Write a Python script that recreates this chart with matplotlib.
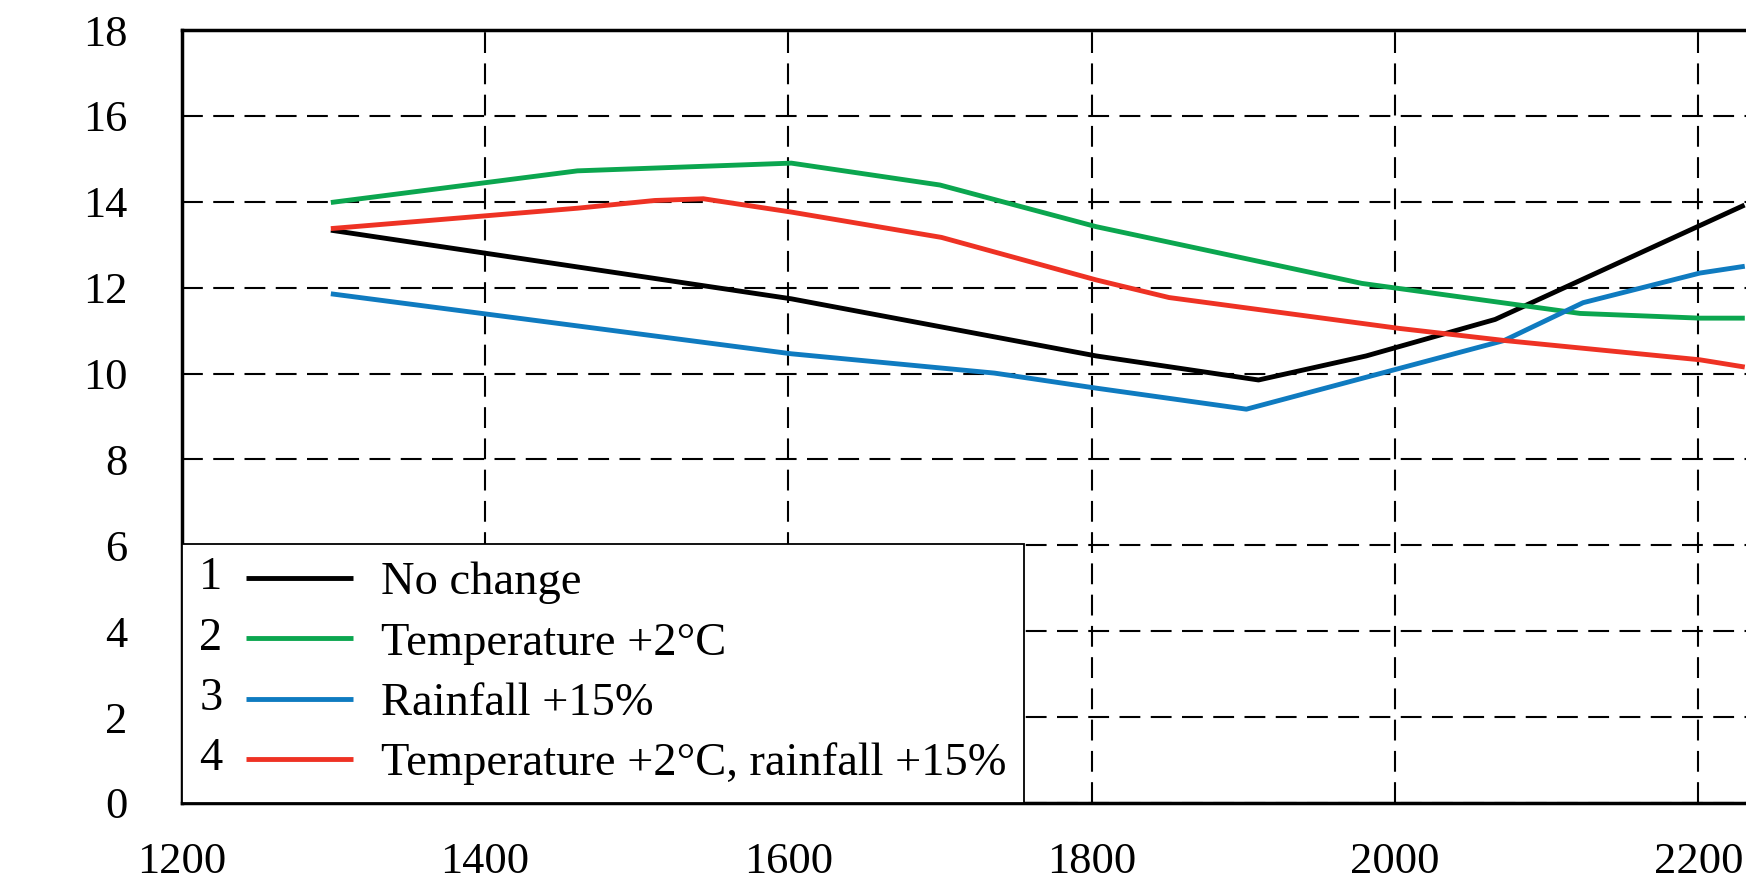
import matplotlib
matplotlib.use("Agg")
import matplotlib.pyplot as plt
from matplotlib.legend_handler import HandlerBase
from matplotlib.lines import Line2D
from matplotlib.text import Text

plt.rcParams['font.family'] = ['Liberation Serif', 'DejaVu Serif']

# values
x_none = [1300, 1602, 1803, 1910, 1981, 2066, 2229]
y_none = [13.33, 11.74, 10.41, 9.85, 10.41, 11.26, 13.90]

x_temp = [1300, 1461, 1602, 1700, 1803, 1978, 2122, 2201, 2229]
y_temp = [13.99, 14.72, 14.90, 14.39, 13.42, 12.10, 11.40, 11.29, 11.29]

x_rain = [1300, 1602, 1736, 1803, 1902, 2072, 2124, 2201, 2229]
y_rain = [11.85, 10.46, 10.01, 9.66, 9.17, 10.77, 11.65, 12.34, 12.49]

x_both = [1300, 1461, 1512, 1544, 1602, 1701, 1803, 1851, 2003, 2072, 2201, 2229]
y_both = [13.38, 13.85, 14.03, 14.07, 13.76, 13.17, 12.18, 11.77, 11.05, 10.77, 10.32, 10.16]

labels = ["No change", "Temperature +2°C", "Rainfall +15%",
          "Temperature +2°C, rainfall +15%"]
colors = ["#000000", "#0BA64F", "#0F7BC0", "#EE3224"]

x_ticks = [1200, 1400, 1600, 1800, 2000, 2200]
y_ticks = list(range(0, 19, 2))


# legend entry = number + coloured line
class NumberedLine(HandlerBase):
    def __init__(self, num):
        super().__init__()
        self.num = num

    def create_artists(self, legend, orig_handle, xdescent, ydescent,
                       width, height, fontsize, trans):
        y = height / 2 - ydescent
        x0 = -xdescent
        num = Text(x0, y, self.num, fontsize=fontsize, ha='left', va='center')
        num.set_transform(trans)
        line = Line2D([x0 + 0.305 * width, x0 + width], [y, y],
                      color=orig_handle.get_color(),
                      lw=orig_handle.get_linewidth(), solid_capstyle='butt')
        line.set_transform(trans)
        return [num, line]


fig = plt.figure(figsize=(17.46, 8.85), dpi=100)
ax = fig.add_axes([0.104, 0.0927, 0.9, 0.8734])

handles = []
for xs, ys, c, lab in zip([x_none, x_temp, x_rain, x_both],
                          [y_none, y_temp, y_rain, y_both], colors, labels):
    h, = ax.plot(xs, ys, color=c, lw=3.5, label=lab, zorder=3)
    handles.append(h)

ax.set_xlim(1200, 2236)
ax.set_ylim(0, 18)
ax.set_xticks(x_ticks)
ax.set_yticks(y_ticks)
ax.tick_params(length=0, labelsize=32)
ax.tick_params(axis='x', pad=28)
ax.tick_params(axis='y', pad=39)

ax.grid(True, color='black', lw=1.5, linestyle=(0, (10, 5)))
for s in ax.spines.values():
    s.set_linewidth(2.5)

leg = ax.legend(handles, labels, loc='lower left', bbox_to_anchor=(0, 0),
                borderaxespad=0, fontsize=33.5, handlelength=3.3,
                handletextpad=0.6, borderpad=0.38, labelspacing=0.38,
                fancybox=False, framealpha=1, edgecolor='black',
                handler_map={h: NumberedLine(str(i + 1)) for i, h in enumerate(handles)})
leg.get_frame().set_linewidth(1.3)
leg.set_zorder(5)

fig.savefig("out.png", dpi=100)
